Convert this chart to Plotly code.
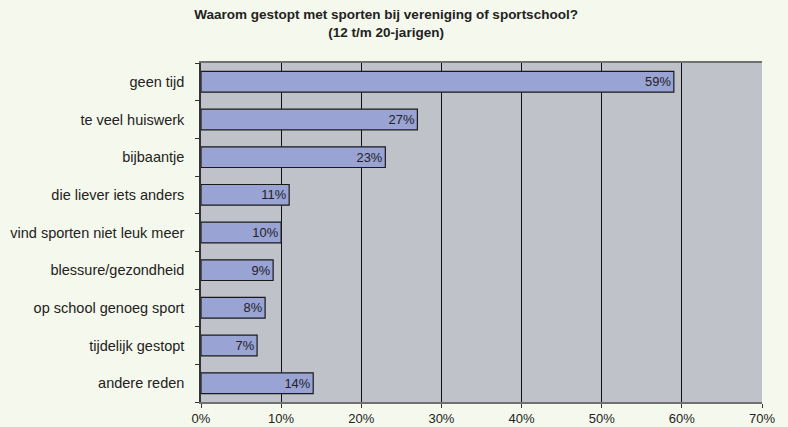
import plotly.graph_objects as go

categories = ["geen tijd", "te veel huiswerk", "bijbaantje", "die liever iets anders",
              "vind sporten niet leuk meer", "blessure/gezondheid", "op school genoeg sport",
              "tijdelijk gestopt", "andere reden"]
values = [59, 27, 23, 11, 10, 9, 8, 7, 14]
tick_vals = [0, 10, 20, 30, 40, 50, 60, 70]
tick_text = ["0%", "10%", "20%", "30%", "40%", "50%", "60%", "70%"]

FONT = "Liberation Sans, Arial, sans-serif"

fig = go.Figure(go.Bar(
    x=values, y=categories, orientation="h",
    marker=dict(color="#99A3D4", line=dict(color="#1a1a1a", width=1.2)),
    text=[f"{v}%" for v in values], textposition="inside", insidetextanchor="end",
    textfont=dict(family=FONT, size=14, color="#222222"),
    width=0.55,
))

fig.update_layout(
    width=788, height=427,
    margin=dict(l=201, r=26, t=63, b=25),
    paper_bgcolor="#F5F8EC",
    plot_bgcolor="#C0C2CA",
    font=dict(family=FONT, size=14, color="#222222"),
    title=dict(text="<b>Waarom gestopt met sporten bij vereniging of sportschool?<br>(12 t/m 20-jarigen)</b>",
               x=0.49, xanchor="center", y=0.955, yanchor="top",
               font=dict(size=13.5, color="#222222")),
    showlegend=False,
)
fig.update_xaxes(range=[0, 70], tickvals=tick_vals, ticktext=tick_text,
                 showgrid=True, gridcolor="#111111", gridwidth=1,
                 showline=True, linecolor="#707070", linewidth=1.5, mirror=True,
                 ticks="outside", ticklen=4, tickcolor="#333333", zeroline=False,
                 tickfont=dict(size=13), automargin=False)
fig.update_yaxes(categoryorder="array", categoryarray=categories[::-1],
                 showline=True, linecolor="#333333", linewidth=1.5, mirror=False,
                 ticks="outside", tickson="boundaries", ticklen=4, tickcolor="#333333",
                 tickfont=dict(size=14.5), ticklabelstandoff=12, automargin=False)

fig.write_html("out.html", config={"displayModeBar": False},
               post_script="document.body.style.margin='0';document.body.style.background='#F5F8EC';")
